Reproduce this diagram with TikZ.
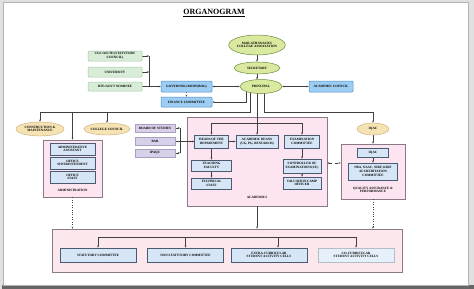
\documentclass[tikz,border=0pt]{standalone}
\usepackage{fontspec}
\setmainfont{Liberation Serif}
\usetikzlibrary{shapes.geometric, arrows.meta, backgrounds, calc}

\definecolor{assocfill}{HTML}{D9EAA0}
\definecolor{assocline}{HTML}{6A8A3A}
\definecolor{mintfill}{HTML}{D8EDD8}
\definecolor{mintline}{HTML}{A8C8A8}
\definecolor{bluefill}{HTML}{9DCDF2}
\definecolor{blueline}{HTML}{4A8AC8}
\definecolor{tanfill}{HTML}{F6E3B4}
\definecolor{tanline}{HTML}{C8A870}
\definecolor{pinkfill}{HTML}{FCE4F0}
\definecolor{pinkline}{HTML}{8A7A88}
\definecolor{unitfill}{HTML}{D6E6F6}
\definecolor{unitline}{HTML}{4A5A70}
\definecolor{lavfill}{HTML}{D8D0E8}
\definecolor{lavline}{HTML}{A8A0C0}
\definecolor{peachfill}{HTML}{FCE8EC}

\tikzset{
  every node/.style={font=\fontsize{3.3}{3.8}\selectfont\bfseries, align=center, inner sep=0pt},
  assoc/.style={ellipse, draw=assocline, fill=assocfill, line width=0.5pt},
  tanell/.style={ellipse, draw=tanline, fill=tanfill, line width=0.4pt},
  mintbox/.style={rectangle, rounded corners=1pt, draw=mintline, fill=mintfill, minimum width=54, line width=0.5pt},
  bluebox/.style={rectangle, rounded corners=1pt, draw=blueline, fill=bluefill, line width=0.5pt},
  lavbox/.style={rectangle, draw=lavline, fill=lavfill, minimum width=40, minimum height=8, line width=0.4pt},
  unitbox/.style={rectangle, draw=unitline, fill=unitfill, line width=0.7pt},
  panel/.style={rectangle, draw=pinkline, fill=pinkfill, line width=0.6pt},
  conn/.style={draw=black!75, line width=0.45pt},
  arr/.style={conn, -{Stealth[length=2.2pt,width=1.8pt]}},
  darr/.style={conn, {Stealth[length=2.2pt,width=1.8pt]}-{Stealth[length=2.2pt,width=1.8pt]}}
}

\begin{document}
\begin{tikzpicture}[x=1pt, y=-1pt]
    \useasboundingbox (0,0) rectangle (474,289);

    \node[font=\fontsize{8}{9}\selectfont\bfseries] (title) at (214,13) {\underline{ORGANOGRAM}};

    % Top - association, secretary, principal
    \node[assoc, minimum width=56, minimum height=20] (mac) at (257,45) {MAR ATHANASIUS\\COLLEGE ASSOCIATION};
    \node[assoc, minimum width=46, minimum height=12] (secy) at (257,68) {SECRETARY};
    \node[assoc, minimum width=42, minimum height=14] (prin) at (261,86.5) {PRINCIPAL};
    \node[bluebox, minimum width=44, minimum height=11] (acc) at (331,86.5) {ACADEMIC COUNCIL};
    \node[bluebox, minimum width=51, minimum height=11] (gb) at (186.5,86.5) {GOVERNING BODY(BOG)};
    \node[bluebox, minimum width=51, minimum height=10] (fin) at (186.5,102) {FINANCE COMMITTEE};

    % Nominating bodies
    \node[mintbox, minimum height=10] (ugc) at (115,56) {UGC/AICTE/(STATUTORY\\COUNCIL)};
    \node[mintbox, minimum height=10] (univ) at (115,72) {UNIVERSITY};
    \node[mintbox, minimum height=9] (dte) at (115,86.5) {DTE/GOVT NOMINEE};

    % Second row
    \node[tanell, minimum width=48, minimum height=14] (cm) at (40,129) {CONSTRUCTION \&\\MAINTENANCE};
    \node[tanell, minimum width=44, minimum height=12] (cc) at (107,129) {COLLEGE COUNCIL};
    \node[tanell, minimum width=32, minimum height=12] (iq) at (373,129) {IQAC};
    \node[lavbox] (bos) at (155,128) {BOARD OF STUDIES};
    \node[lavbox] (bar) at (155,141.5) {BAR};
    \node[lavbox] (ipa) at (155,153) {IPAQC};

    % Administration
    \node[unitbox, minimum width=45, minimum height=12] (asst) at (72.5,149) {ADMINISTRATIVE\\ASSISTANT};
    \node[unitbox, minimum width=45, minimum height=12] (supt) at (72.5,163) {OFFICE\\SUPERINTENDENT};
    \node[unitbox, minimum width=45, minimum height=12] (staff) at (72.5,177) {OFFICE\\STAFF};
    \node (admlbl) at (72.5,190) {ADMINISTRATION};

    % Academics
    \node[unitbox, minimum width=34, minimum height=13] (hod) at (211.5,141.5) {HEADS OF THE\\DEPARTMENT};
    \node[unitbox, minimum width=42, minimum height=13] (deans) at (257,141.5) {ACADEMIC DEANS\\(UG, PG, RESEARCH)};
    \node[unitbox, minimum width=35, minimum height=13] (exam) at (302,141.5) {EXAMINATION\\COMMITTEE};
    \node[unitbox, minimum width=40, minimum height=11] (teach) at (211.5,165.5) {TEACHING\\FACULTY};
    \node[unitbox, minimum width=40, minimum height=11] (tech) at (211.5,183.5) {TECHNICAL\\STAFF};
    \node[unitbox, minimum width=38, minimum height=14] (ctrl) at (302,166) {CONTROLLER OF\\EXAMINATIONS(CE)};
    \node[unitbox, minimum width=38, minimum height=12] (val) at (302,183) {VALUATION CAMP\\OFFICER};
    \node (acadlbl) at (257,197) {ACADEMICS};

    % Quality assurance
    \node[unitbox, minimum width=31, minimum height=9] (qiq) at (373,152.5) {IQAC};
    \node[unitbox, minimum width=49, minimum height=17] (nba) at (373,171.5) {NBA, NAAC, NIRF, KIRF\\ACCREDITATION\\COMMITTEE};
    \node (qalbl) at (373,190) {QUALITY ASSURANCE \&\\PERFORMANCE};

    % Committees and cells
    \node[unitbox, minimum width=76, minimum height=14] (stat) at (98,255) {STATUTORY COMMITTEE};
    \node[unitbox, minimum width=76, minimum height=14] (nstat) at (185.5,255) {NON-STATUTORY COMMITTEE};
    \node[unitbox, minimum width=76, minimum height=14] (extra) at (269,255) {EXTRA-CURRICULAR\\STUDENT ACTIVITY CELLS};
    \node[unitbox, draw=unitline!40, fill=unitfill!60, minimum width=76, minimum height=14] (cocur) at (356,255) {CO-CURRICULAR\\STUDENT ACTIVITY CELLS};

    \coordinate (gbus) at (149,86.5);
    \coordinate (hbus) at (180,141.5);
    \coordinate (lbus) at (250,112);
    \coordinate (rbus) at (264,112);
    \coordinate (ibus) at (257,123);
    \coordinate (dq) at (0,163);
    \coordinate (bb) at (0,237);
    \coordinate (ex) at (278,237);

    \begin{pgfonlayer}{background}
    % page frame
    \fill[black!12] (0,0) rectangle (474,289);
    \fill[black!60] (2,285) rectangle (474,289);
    \filldraw[fill=white, draw=black!30] (3,2) rectangle (468,285);

    % Panels
    \node[panel, minimum width=59, minimum height=57] (adm) at (72.5,168.5) {};
    \node[panel, minimum width=140, minimum height=89] (acad) at (257,161.5) {};
    \node[panel, minimum width=64, minimum height=55] (qa) at (373,171.5) {};
    \node[panel, fill=peachfill, minimum width=350, minimum height=43] (bot) at (227,250.5) {};

    % Top connectors
    \draw[arr] (mac.south) -- (secy.north);
    \draw[arr] (secy.south) -- (secy.south |- prin.north);
    \draw[darr] (gb.east) -- (prin.west);
    \draw[darr] (prin.east) -- (acc.west);
    \draw[arr, dotted] (gb.south) -- (fin.north);
    \draw[arr] (prin.south west) |- (fin.east);
    \draw[arr] (ugc.east) -- (ugc.east -| gbus);
    \draw[arr] (univ.east) -- (univ.east -| gbus);
    \draw[conn] (ugc.east -| gbus) -- (gbus);
    \draw[arr] (dte.east) -- (gb.west);

    % Principal down
    \draw[conn] (prin.center -| lbus) -- (lbus) -- (lbus -| cm.north);
    \draw[arr] (lbus -| cm.north) -- (cm.north);
    \draw[arr] (lbus -| adm.north) -- (adm.north);
    \draw[arr] (lbus -| cc.north) -- (cc.north);
    \draw[conn] (prin.center -| rbus) -- (rbus);
    \draw[arr] (rbus) -| (iq.north);
    \draw[arr] (prin.center -| deans.north) -- (deans.north);
    \draw[arr] (ibus) -| (hod.north);
    \draw[arr] (ibus) -| (exam.north);

    % Academics
    \draw[arr] (bos.east) -- (bos.east -| hbus);
    \draw[arr] (ipa.east) -- (ipa.east -| hbus);
    \draw[conn] (bos.east -| hbus) -- (ipa.east -| hbus);
    \draw[arr] (bar.east) -- (hod.west);
    \draw[arr] (hod.east) -- (deans.west);
    \draw[arr] (hod.south) -- (teach.north);
    \draw[arr] (teach.south) -- (tech.north);
    \draw[arr] (exam.south) -- (ctrl.north);
    \draw[arr] (ctrl.south) -- (val.north);

    % Quality assurance
    \draw[arr] (iq.south) -- (qa.north);
    \draw[arr] (qiq.south) -- (nba.north);
    \draw[darr, dashed] (acad.east |- dq) -- (qa.west |- dq);

    % Down to committees
    \draw[arr] (acad.south) -- (acad.south |- bot.north);
    \draw[arr, dotted] (adm.south) -- (adm.south |- bot.north);
    \draw[arr, dotted] (qa.south) -- (qa.south |- bot.north);
    \draw[conn] (stat.north |- bb) -- (cocur.north |- bb);
    \draw[arr] (stat.north |- bb) -- (stat.north);
    \draw[arr] (nstat.north |- bb) -- (nstat.north);
    \draw[arr] (ex) -- (ex |- extra.north);
    \draw[arr] (cocur.north |- bb) -- (cocur.north);
    \end{pgfonlayer}
\end{tikzpicture}
\end{document}
